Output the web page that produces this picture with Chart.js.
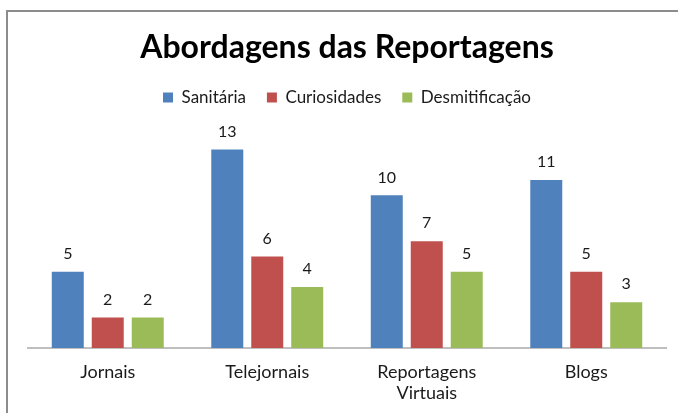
<!DOCTYPE html>
<html>
<head>
<meta charset="utf-8">
<script src="https://cdn.jsdelivr.net/npm/chart.js@4"></script>
<style>
  html, body { margin: 0; padding: 0; background: #fff; }
  #wrap { position: relative; width: 678px; height: 413px; }
</style>
</head>
<body>
<div id="wrap"><canvas id="chart" width="678" height="413"></canvas></div>
<script>
// dados do gráfico
const categories = ['Jornais', 'Telejornais', ['Reportagens', 'Virtuais'], 'Blogs'];
const sanitaria = [5, 13, 10, 11];
const curiosidades = [2, 6, 7, 5];
const desmitificacao = [2, 4, 5, 3];
const seriesNames = ['Sanitária', 'Curiosidades', 'Desmitificação'];

const FONT = 'Lato, "DejaVu Sans", sans-serif';

// moldura cinza (topo e esquerda)
const framePlugin = {
    id: 'frame',
    beforeDraw(chart) {
        const ctx = chart.ctx;
        ctx.save();
        ctx.strokeStyle = '#8c8c8c';
        ctx.lineWidth = 2;
        ctx.beginPath();
        ctx.moveTo(7, 413);
        ctx.lineTo(7, 11);
        ctx.lineTo(678, 11);
        ctx.stroke();
        ctx.restore();
    }
};

// rótulos de valor acima das barras
const valueLabels = {
    id: 'valueLabels',
    afterDatasetsDraw(chart) {
        const ctx = chart.ctx;
        ctx.save();
        ctx.font = '16px ' + FONT;
        ctx.fillStyle = '#1a1a1a';
        ctx.textAlign = 'center';
        ctx.textBaseline = 'bottom';
        chart.data.datasets.forEach((ds, i) => {
            chart.getDatasetMeta(i).data.forEach((bar, j) => {
                ctx.fillText(ds.data[j], bar.x, bar.y - 10);
            });
        });
        ctx.restore();
    }
};

new Chart(document.getElementById('chart'), {
    type: 'bar',
    data: {
        labels: categories,
        datasets: [
            { label: seriesNames[0], data: sanitaria, backgroundColor: '#4f81bd' },
            { label: seriesNames[1], data: curiosidades, backgroundColor: '#c0504d' },
            { label: seriesNames[2], data: desmitificacao, backgroundColor: '#9bbb59' }
        ]
    },
    options: {
        responsive: false,
        animation: false,
        events: [],
        categoryPercentage: 0.752,
        barPercentage: 0.8,
        layout: { padding: { left: 28, right: 12, top: 0, bottom: 0 } },
        scales: {
            x: {
                grid: { display: false, drawTicks: false },
                border: { color: '#bfbfbf', width: 2 },
                ticks: {
                    color: '#1a1a1a',
                    font: { family: FONT, size: 18, lineHeight: 1.2 },
                    padding: 13,
                    maxRotation: 0
                },
                afterFit(scale) { scale.height = 65; }
            },
            y: {
                display: false,
                min: 0,
                max: 15.2
            }
        },
        plugins: {
            title: {
                display: true,
                text: 'Abordagens das Reportagens',
                color: '#000',
                font: { family: FONT, size: 32, weight: 'bold', lineHeight: 1.0 },
                padding: { top: 32, bottom: 4 }
            },
            legend: {
                labels: {
                    boxWidth: 10,
                    boxHeight: 10,
                    color: '#1a1a1a',
                    font: { family: FONT, size: 17 },
                    padding: 21
                }
            },
            tooltip: { enabled: false }
        }
    },
    plugins: [framePlugin, valueLabels]
});
</script>
</body>
</html>
